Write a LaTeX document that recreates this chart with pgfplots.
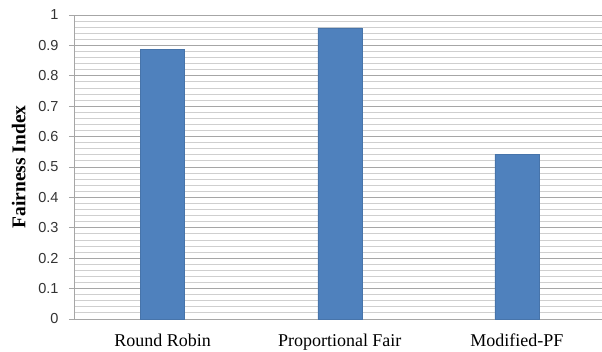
\documentclass[border=0pt]{standalone}
\usepackage{fontspec}
\setmainfont{Liberation Serif}
\newfontfamily\sansf{Liberation Sans}
\usepackage{pgfplots}
\pgfplotsset{compat=1.18}
\usetikzlibrary{calc}
\definecolor{barblue}{HTML}{4F81BD}
\definecolor{majgrid}{HTML}{A6A6A6}
\definecolor{mingrid}{HTML}{CFCFCF}
\begin{document}
\begin{tikzpicture}
\begin{axis}[
  name=ax,
  scale only axis,
  width=531.5pt, height=304pt,
  xmin=-0.5, xmax=2.5,
  ymin=0, ymax=1,
  xtick={0,1,2},
  xticklabels={Round Robin, Proportional Fair, Modified-PF},
  xtick style={draw=none},
  xticklabel style={font=\fontsize{18}{18}\selectfont, yshift=-6.5pt},
  ytick={0,0.1,...,1},
  minor y tick num=4,
  ymajorgrids, yminorgrids,
  major grid style={majgrid, line width=0.9pt},
  minor grid style={mingrid, line width=0.9pt},
  y tick style={majgrid, line width=0.9pt},
  minor y tick style={draw=none},
  major tick length=5pt,
  tick align=outside,
  yticklabel style={font=\sansf\fontsize{14.5}{15}\selectfont, /pgf/number format/fixed, /pgf/number format/precision=1, xshift=-7pt, text=black!80},
  /pgf/number format/assume math mode=true,
  axis x line*=bottom,
  axis y line*=left,
  axis line style={majgrid, line width=0.9pt},
  ylabel={\textbf{Fairness Index}},
  ylabel style={font=\fontsize{19.5}{19.5}\selectfont},
  ylabel shift=6pt,
]
\addplot[ybar, bar width=44pt, fill=barblue, draw=barblue!90!black] coordinates {(0,0.886) (1,0.958) (2,0.541)};
\end{axis}
\pgfresetboundingbox
\path ($(ax.south west)+(-74pt,-32pt)$) rectangle ($(ax.north east)+(-3.5pt,15pt)$);
\end{tikzpicture}
\end{document}
